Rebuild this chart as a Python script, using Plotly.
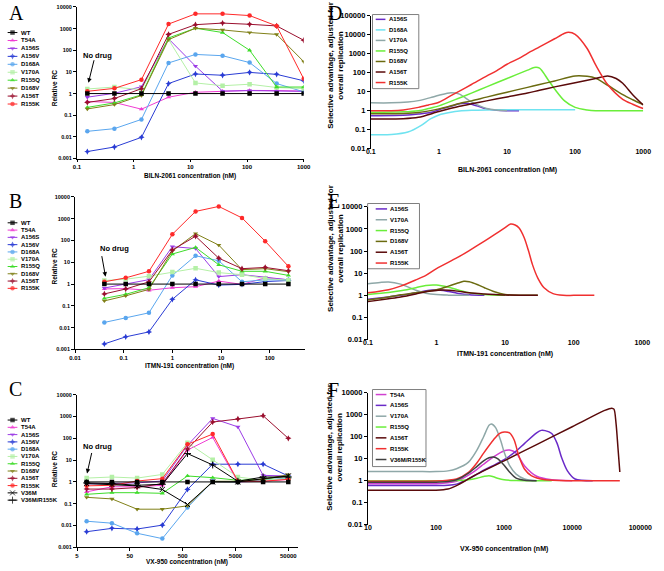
import math
import plotly.graph_objects as go

W, H = 664, 571
FONT = "Liberation Sans, Arial, sans-serif"
SERIF = "Liberation Serif, Times New Roman, serif"

# ======================= DATA =======================
names_ab = ["WT", "T54A", "A156S", "A156V", "D168A", "V170A", "R155Q", "D168V", "A156T", "R155K"]
names_c = names_ab + ["V36M", "V36M/R155K"]

# Panel A : BILN-2061 (nM), relative RC
a_conc = [0.152, 0.457, 1.37, 4.12, 12.3, 37, 111, 333, 1000]
a_wt = [1, 1, 1, 1, 1, 1, 1, 1, 1]
a_t54a = [0.43, 0.39, 0.19, 0.68, 1.15, 1.27, 1.4, 1.37, 1.3]
a_a156s = [0.68, 1.03, 2.07, 340, 18.5, 1.3, 1.37, 1.3, 1.27]
a_a156v = [0.0021, 0.0034, 0.0095, 2.9, 8.0, 7.0, 9.5, 7.7, 3.9]
a_d168a = [0.018, 0.024, 0.064, 26, 64, 56, 27, 2.9, 1.2]
a_v170a = [1.63, 2.0, 1.5, 310, 3.1, 2.3, 2.7, 1.9, 1.7]
a_r155q = [0.23, 0.37, 0.87, 370, 1040, 660, 100, 2.0, 2.0]
a_d168v = [0.195, 0.31, 0.81, 310, 1040, 870, 660, 540, 30]
a_a156t = [0.39, 0.59, 1.68, 540, 1520, 1800, 1580, 1330, 290]
a_r155k = [1.27, 1.74, 4.4, 1620, 4800, 4800, 4000, 1330, 4.8]

# Panel B : ITMN-191 (nM), relative RC
b_conc = [0.04, 0.11, 0.33, 1, 3, 9, 27, 81, 243]
b_wt = [1, 1, 1, 1, 1, 1, 1, 1, 1]
b_t54a = [0.6, 0.62, 0.52, 0.68, 0.76, 1.37, 0.97, 1.93, 1.57]
b_a156s = [0.66, 1.03, 1.6, 52, 43, 2.2, 2.7, 2.07, 1.57]
b_a156v = [0.0018, 0.0038, 0.0064, 0.2, 1.57, 0.9, 0.97, 1.3, 1.46]
b_d168a = [0.0174, 0.028, 0.048, 2.5, 20, 11.7, 1.27, 1.57, 1.57]
b_v170a = [1.46, 1.68, 2.3, 3.6, 5.3, 3.36, 2.7, 1.8, 1.5]
b_r155q = [0.22, 0.34, 0.68, 24, 48, 7.7, 3.86, 3.86, 2.5]
b_d168v = [0.17, 0.29, 0.57, 33, 207, 61.5, 4.6, 5.1, 3.7]
b_a156t = [0.354, 0.595, 1.27, 36.6, 157, 15.4, 5.1, 5.8, 4.1]
b_r155k = [1.27, 1.93, 3.86, 193, 2160, 3650, 1090, 93, 6.5]

# Panel C : VX-950 (nM), relative RC
c_conc = [7.6, 22.9, 68.6, 206, 617, 1852, 5556, 16667, 50000]
c_wt = [1, 1, 1, 1, 1, 1, 1, 1, 1]
c_t54a = [0.35, 0.6, 0.6, 0.7, 29, 110, 1.0, 1.07, 1.3]
c_a156s = [0.81, 0.84, 0.9, 1.1, 48, 820, 335, 2.0, 1.87]
c_a156v = [0.0052, 0.0074, 0.0069, 0.0104, 0.45, 6.5, 6.5, 6.5, 1.87]
c_d168a = [0.0157, 0.0128, 0.0044, 0.0025, 0.067, 1.07, 1.0, 1.19, 1.5]
c_v170a = [1.5, 1.68, 1.5, 2.2, 63, 10.5, 1.68, 1.19, 1.41]
c_r155q = [0.27, 0.32, 0.32, 0.3, 1.87, 1.57, 1.19, 1.32, 1.87]
c_d168v = [0.196, 0.166, 0.056, 0.056, 0.08, 1.07, 1.07, 1.32, 2.14]
c_a156t = [0.47, 0.47, 0.55, 0.84, 32, 560, 770, 1090, 100]
c_r155k = [0.66, 0.7, 1.1, 1.41, 53, 157, 1.07, 1.07, 1.32]
c_v36m = [0.84, 0.76, 0.66, 0.45, 0.092, 1.0, 1.0, 1.4, 1.87]
c_v36m_r155k = [0.9, 0.84, 0.7, 0.78, 20, 6.0, 1.07, 1.68, 1.68]

# Panel D : BILN-2061, selective advantage
d_a156s_x = [0.1, 0.35, 0.5, 0.75, 1, 1.5, 2, 2.5, 3, 4, 5, 7, 10, 15]
d_a156s_y = [0.55, 0.6, 0.68, 0.8, 1.12, 1.7, 2.3, 2.45, 2.2, 1.6, 1.25, 1.05, 1.0, 1.0]
d_d168a_x = [0.1, 0.2, 0.35, 0.55, 0.75, 1, 1.5, 2, 3, 5, 10, 30, 100]
d_d168a_y = [0.055, 0.056, 0.075, 0.17, 0.37, 0.6, 0.83, 0.96, 1.05, 1.1, 1.12, 1.12, 1.12]
d_v170a_x = [0.1, 0.2, 0.35, 0.5, 0.75, 1, 1.5, 2, 3, 5, 7, 10]
d_v170a_y = [2.6, 2.6, 2.9, 3.4, 4.9, 6.5, 8.8, 7.5, 2.9, 1.3, 1.08, 1.0]
d_r155q_x = [0.1, 0.3, 0.5, 0.7, 1, 2, 3, 5, 10, 20, 25, 30, 40, 50, 70, 100, 150, 200, 500, 1000]
d_r155q_y = [0.82, 0.87, 1.0, 1.3, 1.8, 4.7, 8.5, 18, 50, 137, 190, 175, 43, 14, 3.3, 1.5, 1.1, 1.0, 1.0, 1.0]
d_d168v_x = [0.1, 0.3, 0.5, 1, 2, 3, 5, 10, 20, 30, 50, 100, 150, 200, 300, 500, 700, 1000]
d_d168v_y = [0.7, 0.72, 0.8, 1.25, 2.4, 3.3, 5.2, 9.5, 17, 24, 37, 68, 65, 52, 22, 7, 3.8, 2.1]
d_a156t_x = [0.1, 0.3, 0.5, 1, 2, 3, 5, 10, 20, 30, 50, 100, 200, 300, 400, 500, 700, 1000]
d_a156t_y = [0.37, 0.38, 0.45, 0.9, 1.7, 2.3, 3.3, 5.3, 8.5, 12, 18, 30, 50, 68, 50, 28, 7, 2.0]
d_r155k_x = [0.1, 0.2, 0.3, 0.5, 0.7, 1, 1.5, 2, 3, 5, 7, 10, 15, 20, 30, 50, 70, 80, 100, 150, 200, 300, 500, 700, 1000]
d_r155k_y = [1.0, 1.0, 1.1, 1.5, 2.0, 2.8, 6.2, 10.8, 24, 67, 127, 280, 570, 1060, 2300, 6200, 12000, 13500, 10500, 1900, 260, 24, 4, 2.2, 1.3]

# Panel E : ITMN-191, selective advantage
e_a156s_x = [0.1, 0.2, 0.3, 0.5, 0.7, 1, 1.5, 2, 3, 5]
e_a156s_y = [0.67, 0.85, 1.0, 1.3, 1.6, 1.8, 1.5, 1.25, 1.05, 1.0]
e_v170a_x = [0.1, 0.15, 0.2, 0.3, 0.5, 0.7, 1, 1.5, 2, 3]
e_v170a_y = [3.3, 3.8, 4.0, 3.2, 1.7, 1.25, 1.08, 1.02, 1.0, 1.0]
e_r155q_x = [0.1, 0.2, 0.3, 0.5, 0.7, 1, 1.5, 2, 3, 5, 10]
e_r155q_y = [1.1, 1.35, 1.6, 2.2, 2.8, 2.9, 2.3, 1.8, 1.3, 1.1, 1.0]
e_d168v_x = [0.1, 0.2, 0.3, 0.5, 1, 1.5, 2, 2.5, 3, 4, 5, 7, 10, 20, 30]
e_d168v_y = [0.62, 0.85, 1.05, 1.3, 1.8, 2.6, 3.5, 4.3, 4.1, 3.0, 2.2, 1.45, 1.1, 1.0, 1.0]
e_a156t_x = [0.1, 0.2, 0.3, 0.5, 0.7, 1, 1.2, 1.5, 2, 3, 5, 7, 10, 20, 30]
e_a156t_y = [0.52, 0.7, 0.84, 1.15, 1.45, 1.65, 1.75, 1.7, 1.55, 1.3, 1.15, 1.08, 1.03, 1.0, 1.0]
e_r155k_x = [0.1, 0.2, 0.3, 0.5, 0.7, 1, 2, 3, 5, 7, 10, 12, 14, 16, 19, 22, 25, 30, 37, 50, 70, 100, 200]
e_r155k_y = [1.3, 1.8, 2.6, 5, 8, 16, 50, 105, 280, 550, 1150, 1650, 1500, 1100, 400, 100, 25, 6, 2.2, 1.2, 1.0, 1.0, 1.0]

# Panel F : VX-950, selective advantage
f_t54a_x = [10, 50, 100, 150, 200, 300, 400, 500, 700, 1000, 1200, 1500, 2000, 3000, 5000, 10000]
f_t54a_y = [0.72, 0.72, 0.73, 0.8, 0.95, 1.8, 3.3, 5.6, 12, 23, 25, 18, 4.7, 1.6, 1.1, 1.0]
f_a156s_x = [10, 50, 100, 150, 200, 300, 400, 500, 700, 1000, 1500, 2000, 3000, 3500, 4000, 5000, 6000, 7000, 8500, 11000, 20000]
f_a156s_y = [0.6, 0.6, 0.6, 0.62, 0.7, 1.2, 2.0, 3.0, 5, 9, 22, 50, 150, 195, 190, 140, 50, 11, 2.8, 1.2, 1.0]
f_v170a_x = [10, 50, 100, 150, 200, 300, 400, 500, 600, 650, 750, 900, 1000, 1200, 1500, 2000, 3000]
f_v170a_y = [2.6, 2.6, 2.6, 2.8, 3.5, 7, 25, 100, 330, 380, 260, 60, 20, 5, 2, 1.2, 1.0]
f_r155q_x = [10, 100, 200, 300, 400, 500, 600, 700, 800, 1000, 1500, 2000, 5000]
f_r155q_y = [1.0, 1.0, 1.02, 1.1, 1.3, 1.55, 1.7, 1.5, 1.3, 1.1, 1.02, 1.0, 1.0]
f_a156t_x = [10, 50, 100, 150, 200, 300, 400, 1000, 3000, 10000, 30000, 38000, 41000, 44000, 47000, 50000]
f_a156t_y = [0.37, 0.37, 0.37, 0.42, 0.6, 1.2, 2.0, 8, 44, 285, 1580, 2000, 1800, 400, 30, 2.5]
f_r155k_x = [10, 50, 100, 150, 200, 300, 400, 500, 700, 850, 1000, 1200, 1400, 1650, 2000, 2500, 4000, 10000, 50000]
f_r155k_y = [0.95, 0.95, 0.97, 1.05, 1.2, 2.4, 6.6, 18, 73, 140, 165, 150, 73, 13, 3.3, 1.7, 1.1, 1.0, 1.0]
f_v36m_r155k_x = [10, 50, 100, 150, 200, 300, 400, 500, 600, 700, 800, 1000, 1200, 1500, 2000, 3000]
f_v36m_r155k_y = [0.85, 0.85, 0.86, 0.92, 1.1, 2.2, 4.5, 8, 11, 12, 10, 5, 2.5, 1.3, 1.05, 1.0]

# tick labels
ab_ytick_vals = [0.001, 0.01, 0.1, 1, 10, 100, 1000, 10000]
ab_ytick_text = ["0.001", "0.01", "0.1", "1", "10", "100", "1000", "10000"]
a_xtick_vals = [0.1, 1, 10, 100, 1000]
a_xtick_text = ["0.1", "1", "10", "100", "1000"]
b_xtick_vals = [0.01, 0.1, 1, 10, 100]
b_xtick_text = ["0.01", "0.1", "1", "10", "100"]
c_xtick_vals = [5, 50, 500, 5000, 50000]
c_xtick_text = ["5", "50", "500", "5000", "50000"]
d_ytick_vals = [0.01, 0.1, 1, 10, 100, 1000, 10000, 100000]
d_ytick_text = ["0.01", "0.1", "1", "10", "100", "1000", "10000", "100000"]
ef_ytick_vals = [0.01, 0.1, 1, 10, 100, 1000, 10000]
ef_ytick_text = ["0.01", "0.1", "1", "10", "100", "1000", "10000"]
de_xtick_vals = [0.1, 1, 10, 100, 1000]
de_xtick_text = ["0.1", "1", "10", "100", "1000"]
f_xtick_vals = [10, 100, 1000, 10000, 100000]
f_xtick_text = ["10", "100", "1000", "10000", "100000"]

# ======================= STYLES =======================
LEFT_STYLE = {
    "WT": ("#000000", "square"),
    "T54A": ("#F03CD2", "triangle-up"),
    "A156S": ("#9B3BE6", "triangle-down"),
    "A156V": ("#2A3CD4", "star-diamond"),
    "D168A": ("#5AA6EE", "circle"),
    "V170A": ("#B4F0A6", "square"),
    "R155Q": ("#3EDC2A", "triangle-up"),
    "D168V": ("#808018", "triangle-down"),
    "A156T": ("#9A0F2E", "star-diamond"),
    "R155K": ("#FF2A2A", "circle"),
    "V36M": ("#000000", "x-thin"),
    "V36M/R155K": ("#000000", "cross-thin"),
}
RIGHT_COLOR = {
    "T54A": "#D040D0",
    "A156S": "#6A2BC8",
    "D168A": "#6FE3F0",
    "V170A": "#8FA8A8",
    "R155Q": "#6AEE3A",
    "D168V": "#6B6B10",
    "A156T": "#5A0A0A",
    "R155K": "#F03030",
    "V36M/R155K": "#404040",
}

def px2x(p):
    return p / W

def px2y(p):
    return 1 - p / H

def xdom(p0, p1):
    return [px2x(p0), px2x(p1)]

def ydom(top, bottom):
    return [px2y(bottom), px2y(top)]

fig = go.Figure()
annotations = []
shapes = []

tickfont_small = dict(family=FONT, size=6, color="black", weight="bold")

# ---------------- left panels ----------------
left_panels = [
    ("", a_conc, [a_wt, a_t54a, a_a156s, a_a156v, a_d168a, a_v170a, a_r155q, a_d168v, a_a156t, a_r155k],
     names_ab, (73, 306), (3, 157), [-1, 3], a_xtick_vals, a_xtick_text, "BILN-2061 concentration (nM)",
     174.5, 86, (29, 8.07), (84.7, 80, 6, -24), (94, 52.5)),
    ("2", b_conc, [b_wt, b_t54a, b_a156s, b_a156v, b_d168a, b_v170a, b_r155q, b_d168v, b_a156t, b_r155k],
     names_ab, (71, 307), (196, 351), [-2, 2.72], b_xtick_vals, b_xtick_text, "ITMN-191 concentration (nM)",
     367.5, 267, (222.3, 7.4), (102.3, 277, -4, -22), (112, 248)),
    ("3", c_conc, [c_wt, c_t54a, c_a156s, c_a156v, c_d168a, c_v170a, c_r155q, c_d168v, c_a156t, c_r155k,
                   c_v36m, c_v36m_r155k],
     names_c, (73, 300), (397, 552), [math.log10(5), 4.88], c_xtick_vals, c_xtick_text,
     "VX-950 concentration (nM)", 567, 473, (422.7, 7.4), (83.3, 477, 5, -22), (94, 449.5)),
]

for (sfx, conc, series, names, (x0, x1), (yt, yb), xr, xtv, xtt, xtitle, xt_y, yt_y,
     (leg_y0, leg_dy), (ar_x, ar_y, ar_ax, ar_ay), (nd_x, nd_y)) in left_panels:
    xa, ya = "x" + sfx, "y" + sfx
    order = list(range(1, len(names))) + [0]
    for i in order:
        col, sym = LEFT_STYLE[names[i]]
        mk = dict(symbol=sym, size=4.5, color=col, line=dict(width=0))
        if sym.endswith("thin"):
            mk = dict(symbol=sym, size=5, color=col, line=dict(width=1, color=col))
        fig.add_trace(go.Scatter(x=conc, y=series[i], mode="lines+markers",
                                 line=dict(color=col, width=1), marker=mk,
                                 xaxis=xa, yaxis=ya, showlegend=False, name=names[i]))
    fig.update_layout(**{
        "xaxis" + sfx: dict(type="log", domain=xdom(x0, x1), range=xr, anchor=ya,
                            showline=True, linecolor="black", linewidth=1, ticks="outside",
                            ticklen=2.5, tickwidth=1, tickcolor="black", showgrid=False, zeroline=False,
                            tickmode="array", tickvals=xtv, ticktext=xtt, tickfont=tickfont_small,
                            fixedrange=True),
        "yaxis" + sfx: dict(type="log", domain=ydom(yt, yb), range=[-3, 4], anchor=xa,
                            showline=True, linecolor="black", linewidth=1, ticks="outside",
                            ticklen=3, tickwidth=1, tickcolor="black", showgrid=False, zeroline=False,
                            tickmode="array", tickvals=ab_ytick_vals, ticktext=ab_ytick_text,
                            tickfont=dict(family=FONT, size=5.5, color="black", weight="bold"),
                            fixedrange=True),
    })
    annotations.append(dict(x=px2x((x0 + x1) / 2), y=px2y(xt_y), xref="paper", yref="paper",
                            text=xtitle, showarrow=False, xanchor="center", yanchor="middle",
                            font=dict(family=FONT, size=6.5, color="black", weight="bold")))
    annotations.append(dict(x=px2x(50), y=px2y(yt_y), xref="paper", yref="paper",
                            text="Relative RC", textangle=-90, showarrow=False,
                            xanchor="center", yanchor="middle",
                            font=dict(family=FONT, size=6.5, color="black", weight="bold")))
    annotations.append(dict(x=px2x(ar_x), y=px2y(ar_y), xref="paper", yref="paper", text="",
                            showarrow=True, arrowhead=2, arrowsize=0.9, arrowwidth=1,
                            arrowcolor="black", ax=ar_ax, ay=ar_ay))
    annotations.append(dict(x=px2x(nd_x), y=px2y(nd_y), xref="paper", yref="paper", text="No drug",
                            showarrow=False, xanchor="center", yanchor="middle",
                            font=dict(family=FONT, size=7.5, color="black", weight="bold")))
    for i, n in enumerate(names):
        col, sym = LEFT_STYLE[n]
        ly = leg_y0 + leg_dy * i
        mk = dict(symbol=sym, size=[0, 4.5, 0], color=col, line=dict(width=0))
        if sym.endswith("thin"):
            mk = dict(symbol=sym, size=[0, 5, 0], color=col, line=dict(width=1, color=col))
        fig.add_trace(go.Scatter(x=[1.7, 6.7, 11.7], y=[ly, ly, ly], mode="lines+markers",
                                 line=dict(color=col, width=1), marker=mk,
                                 xaxis="x10", yaxis="y10", showlegend=False, hoverinfo="skip"))
        annotations.append(dict(x=px2x(13.3), y=px2y(ly), xref="paper", yref="paper", text=n,
                                showarrow=False, xanchor="left", yanchor="middle",
                                font=dict(family=FONT, size=6, color="black", weight="bold")))

# ---------------- right panels ----------------
right_panels = [
    ("4", "7",
     [("A156S", d_a156s_x, d_a156s_y), ("D168A", d_d168a_x, d_d168a_y), ("V170A", d_v170a_x, d_v170a_y),
      ("R155Q", d_r155q_x, d_r155q_y), ("D168V", d_d168v_x, d_d168v_y), ("A156T", d_a156t_x, d_a156t_y),
      ("R155K", d_r155k_x, d_r155k_y)],
     (375, 655), (12, 147), [-1, 3], [-2, 5], de_xtick_vals, de_xtick_text, d_ytick_vals, d_ytick_text,
     "BILN-2061 concentration (nM)", 169, 62, (376.7, 10.7, 424.3, 86), (15.6, 10.7), (380, 390, 392)),
    ("5", "8",
     [("A156S", e_a156s_x, e_a156s_y), ("V170A", e_v170a_x, e_v170a_y), ("R155Q", e_r155q_x, e_r155q_y),
      ("D168V", e_d168v_x, e_d168v_y), ("A156T", e_a156t_x, e_a156t_y), ("R155K", e_r155k_x, e_r155k_y)],
     (372, 654), (206, 341), [-1, 3], [-2, 4], de_xtick_vals, de_xtick_text, ef_ytick_vals, ef_ytick_text,
     "ITMN-191 concentration (nM)", 355.7, 248, (371.7, 202.7, 425, 269), (208.2, 11), (380, 391.7, 393)),
    ("6", "9",
     [("T54A", f_t54a_x, f_t54a_y), ("A156S", f_a156s_x, f_a156s_y), ("V170A", f_v170a_x, f_v170a_y),
      ("R155Q", f_r155q_x, f_r155q_y), ("A156T", f_a156t_x, f_a156t_y), ("R155K", f_r155k_x, f_r155k_y),
      ("V36M/R155K", f_v36m_r155k_x, f_v36m_r155k_y)],
     (372, 652), (395, 529), [1, 5], [-2, 4], f_xtick_vals, f_xtick_text, ef_ytick_vals, ef_ytick_text,
     "VX-950 concentration (nM)", 553.7, 450, (376.7, 391.7, 431.7, 470), (396.8, 11), (380, 391, 392.7)),
]

for (sfx, lsfx, curves, (x0, x1), (yt, yb), xr, yr, xtv, xtt, ytv, ytt, xtitle, xt_y, yt_y,
     (bx0, by0, bx1, by1), (leg_y0, leg_dy), (lx0, lx1, ltx)) in right_panels:
    xa, ya = "x" + sfx, "y" + sfx
    for n, cx, cy in curves:
        fig.add_trace(go.Scatter(x=cx, y=cy, mode="lines",
                                 line=dict(color=RIGHT_COLOR[n], width=1.5, shape="spline", smoothing=0.8),
                                 xaxis=xa, yaxis=ya, showlegend=False, name=n))
    ydomain = ydom(yt, yb)
    pos_one = ydomain[0] + (0 - yr[0]) / (yr[1] - yr[0]) * (ydomain[1] - ydomain[0])
    minor_vals = [m * 10 ** k for k in range(int(xr[0]), int(xr[1])) for m in range(2, 10)]
    fig.update_layout(**{
        "xaxis" + sfx: dict(type="log", domain=xdom(x0, x1), range=xr, anchor="free",
                            position=ydomain[0] + 3.0 / H,
                            showline=False, ticks="", showgrid=False, zeroline=False,
                            tickmode="array", tickvals=xtv, ticktext=xtt,
                            tickfont=dict(family=FONT, size=7, color="black", weight="bold"),
                            fixedrange=True),
        "xaxis" + lsfx: dict(type="log", overlaying=xa, anchor="free", position=pos_one, range=xr,
                             showline=True, linecolor="black", linewidth=1, ticks="outside",
                             ticklen=3, tickwidth=1, tickcolor="black", showgrid=False, zeroline=False,
                             tickmode="array", tickvals=xtv, showticklabels=False,
                             minor=dict(ticks="outside", ticklen=2, tickwidth=0.8, tickcolor="black",
                                        tickmode="array", tickvals=minor_vals, showgrid=False),
                             fixedrange=True),
        "yaxis" + sfx: dict(type="log", domain=ydomain, range=yr, anchor=xa,
                            showline=True, linecolor="black", linewidth=1, ticks="outside",
                            ticklen=3, tickwidth=1, tickcolor="black", showgrid=False, zeroline=False,
                            tickmode="array", tickvals=ytv, ticktext=ytt,
                            tickfont=dict(family=FONT, size=7.5, color="black", weight="bold"),
                            fixedrange=True),
    })
    annotations.append(dict(x=px2x((x0 + x1) / 2), y=px2y(xt_y), xref="paper", yref="paper",
                            text=xtitle, showarrow=False, xanchor="center", yanchor="middle",
                            font=dict(family=FONT, size=7, color="black", weight="bold")))
    annotations.append(dict(x=px2x(338), y=px2y(yt_y), xref="paper", yref="paper",
                            text="Selective advantage, adjusted for<br>overall replication",
                            textangle=-90, showarrow=False, xanchor="center", yanchor="middle",
                            font=dict(family=FONT, size=8, color="black", weight="bold")))
    shapes.append(dict(type="rect", xref="paper", yref="paper", x0=px2x(bx0), x1=px2x(bx1),
                       y0=px2y(by1), y1=px2y(by0), line=dict(color="#7F7F7F", width=1),
                       fillcolor="white", layer="below"))
    for i, (n, cx, cy) in enumerate(curves):
        ly = leg_y0 + leg_dy * i
        fig.add_trace(go.Scatter(x=[lx0, lx1], y=[ly, ly], mode="lines",
                                 line=dict(color=RIGHT_COLOR[n], width=1.5),
                                 xaxis="x10", yaxis="y10", showlegend=False, hoverinfo="skip"))
        annotations.append(dict(x=px2x(ltx), y=px2y(ly), xref="paper", yref="paper", text=n,
                                showarrow=False, xanchor="left", yanchor="middle",
                                font=dict(family=FONT, size=6, color="black", weight="bold")))

for letter, lx, ly in [("A", 1, 9), ("B", 1, 200), ("C", 1, 391), ("D", 329, 9.5), ("E", 329, 200.5),
                       ("F", 329, 392.5)]:
    annotations.append(dict(x=px2x(lx), y=px2y(ly), xref="paper", yref="paper", text=letter,
                            showarrow=False, xanchor="left", yanchor="middle",
                            font=dict(family=SERIF, size=20, color="black")))

fig.update_layout(
    xaxis10=dict(domain=[0, 1], range=[0, W], visible=False, anchor="y10", fixedrange=True),
    yaxis10=dict(domain=[0, 1], range=[H, 0], visible=False, anchor="x10", fixedrange=True),
    width=W, height=H, autosize=False,
    margin=dict(l=0, r=0, t=0, b=0),
    paper_bgcolor="white", plot_bgcolor="rgba(0,0,0,0)",
    showlegend=False,
    annotations=annotations, shapes=shapes,
    font=dict(family=FONT, color="black"),
)

fig.write_html("out.html", config={"displayModeBar": False},
               post_script="document.body.style.margin='0';document.body.style.overflow='hidden';")
